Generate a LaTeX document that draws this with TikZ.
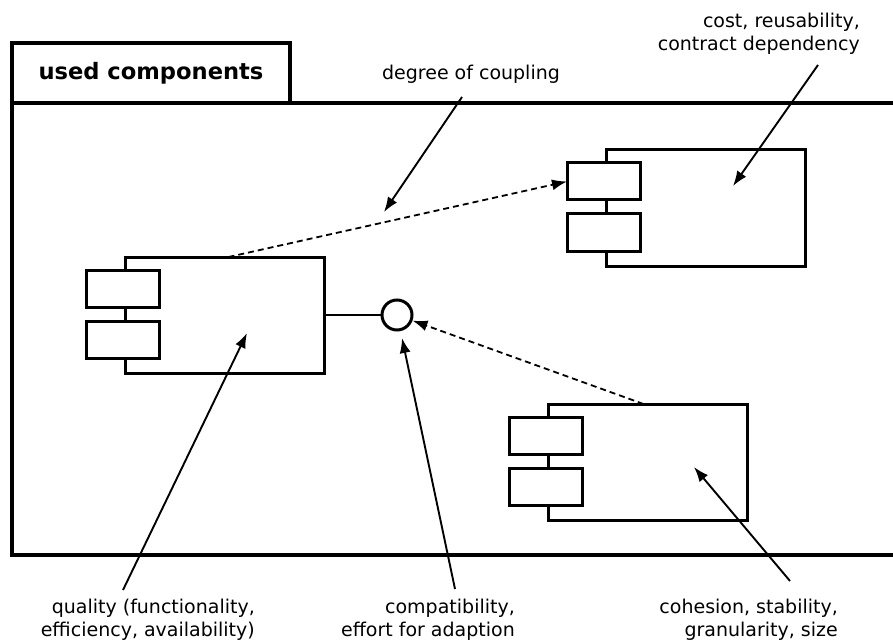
\documentclass[tikz,border=0pt]{standalone}
\usepackage{fontspec}
\setmainfont{DejaVu Sans}
\usetikzlibrary{arrows.meta}

\begin{document}
\begin{tikzpicture}[x=1pt,y=-1pt,>={Latex[length=15pt,width=11pt]},
	comp/.style={draw,line width=3pt,minimum width=199pt,minimum height=116pt,inner sep=0pt,outer sep=0pt,anchor=north west,fill=white},
	port/.style={draw,line width=3pt,minimum width=73pt,minimum height=37pt,inner sep=0pt,outer sep=0pt,anchor=north west,fill=white},
	lbl/.style={align=right,inner sep=0pt,font=\fontsize{19}{23}\selectfont},
	note/.style={->,line width=1.9pt},
	dep/.style={->,line width=1.8pt,dash pattern=on 6pt off 4pt}]
		\useasboundingbox (0,0) rectangle (893,644);
		% package frame
		\draw[line width=3.8pt] (12,43) rectangle (290,103);
		\draw[line width=3.8pt] (897,103) -- (12,103) -- (12,555) -- (897,555);
		\node[font=\bfseries\fontsize{22.6}{27}\selectfont] (title) at (151,73) {used components};
		% components
		\foreach \n/\x/\y in {left/125/257,top/606/150,bottom/548/404}{
			\node[comp] (\n) at (\x,\y) {};
			\node[port] (\n1) at ([xshift=-39pt,yshift=-13pt]\n.north west) {};
			\node[port] (\n2) at ([xshift=-39pt,yshift=-64pt]\n.north west) {};
		}
		\node[draw,circle,line width=3pt,minimum size=30pt,inner sep=0pt] (iface) at (397,315) {};
		\draw[line width=1.8pt] (left.east) -- (iface.west);
		\draw[dep] ([xshift=4pt]left.north) -- (top1.west);
		\draw[dep] ([xshift=-4pt]bottom.north) -- (iface);
		% labels
		\node[lbl,anchor=base east] (cost) at (860,51) {cost, reusability,\\contract dependency};
		\node[lbl,anchor=base] (coupling) at (471,80) {degree of coupling};
		\node[lbl,anchor=base east] (quality) at (255,636) {quality (functionality,\\efficiency, availability)};
		\node[lbl,anchor=base east] (compat) at (515,636) {compatibility,\\effort for adaption};
		\node[lbl,anchor=base east] (cohesion) at (838,636) {cohesion, stability,\\granularity, size};
		\coordinate (costfrom) at (818,65);
		\coordinate (costto) at (733,186);
		\coordinate (couplingfrom) at (462,97);
		\coordinate (couplingto) at (384,212);
		\coordinate (qualityfrom) at (123,590);
		\coordinate (qualityto) at (247,333);
		\coordinate (compatfrom) at (455,589);
		\coordinate (compatto) at (402,338);
		\coordinate (cohesionfrom) at (790,581);
		\coordinate (cohesionto) at (694,467);
		\draw[note] (costfrom) -- (costto);
		\draw[note] (couplingfrom) -- (couplingto);
		\draw[note] (qualityfrom) -- (qualityto);
		\draw[note] (compatfrom) -- (compatto);
		\draw[note] (cohesionfrom) -- (cohesionto);
	\end{tikzpicture}
\end{document}
